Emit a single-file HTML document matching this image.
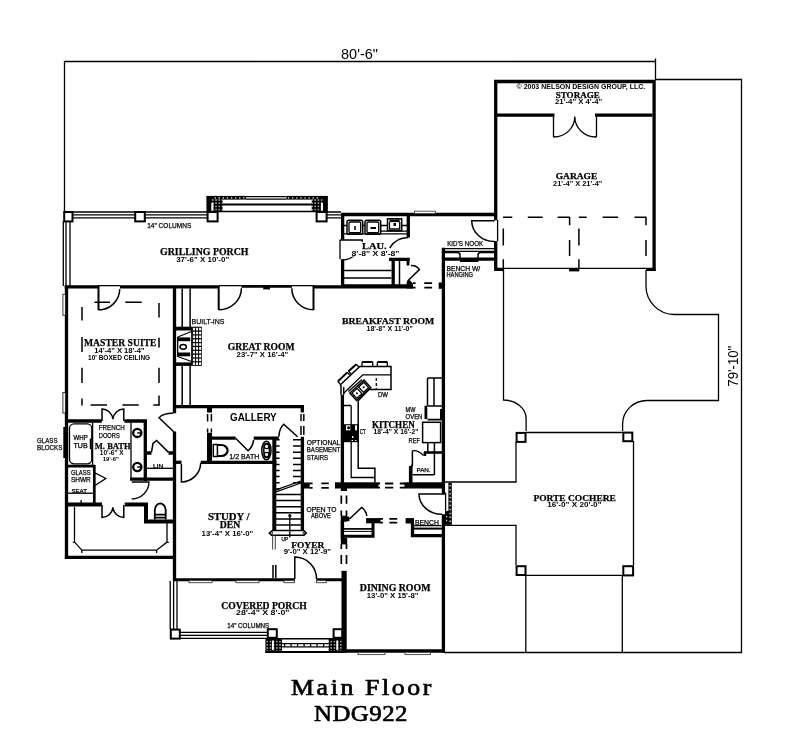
<!DOCTYPE html>
<html>
<head>
<meta charset="utf-8">
<title>Main Floor NDG922</title>
<style>
html,body{margin:0;padding:0;background:#fff;}
body{width:800px;height:753px;overflow:hidden;font-family:"Liberation Sans",sans-serif;}
svg{display:block;filter:grayscale(1);}
.t{stroke:#000;stroke-width:1.3;fill:none;}
.t2{stroke:#000;stroke-width:1.5;fill:none;}
.m{stroke:#000;stroke-width:2;fill:none;}
.w{stroke:#000;stroke-width:3.3;fill:none;stroke-linecap:butt;}
.w4{stroke:#000;stroke-width:4;fill:none;}
.d{stroke:#000;stroke-width:1.5;fill:none;stroke-dasharray:16 13;}
.dd{stroke:#000;stroke-width:1.5;fill:none;}
.k{fill:#000;stroke:none;}
.col{fill:#fff;stroke:#000;stroke-width:2;}
.rl{font-family:"Liberation Serif",serif;font-weight:bold;font-size:9px;letter-spacing:1px;fill:#000;text-anchor:middle;}
.dm{font-family:"Liberation Sans",sans-serif;font-weight:bold;font-size:6px;fill:#111;text-anchor:middle;}
.sm{font-family:"Liberation Sans",sans-serif;font-size:6.5px;fill:#111;}
.ttl{font-family:"Liberation Serif",serif;font-size:24px;letter-spacing:3px;fill:#000;text-anchor:middle;}
</style>
</head>
<body>
<svg width="800" height="753" viewBox="0 0 800 753">
<rect x="0" y="0" width="800" height="753" fill="#fff"/>
<defs>
<pattern id="dots" x="0" y="0" width="3.2" height="3.2" patternUnits="userSpaceOnUse"><rect width="3.2" height="3.2" fill="#000"/><rect x="1" y="1" width="1.3" height="1.2" fill="#fff"/></pattern>
</defs>

<!-- ===== DIMENSION LINES ===== -->
<g id="dims" opacity="0.995">
<path class="t" d="M64.5 211 V61.5 H655.5 M655.5 58.5 V80 M655 79.5 H741.5 V652.5 H444"/>
<text x="341" y="58.6" textLength="37" lengthAdjust="spacingAndGlyphs" font-family="Liberation Sans" font-size="14" fill="#000">80'-6"</text>
<text transform="translate(737.6,386.7) rotate(-90)" textLength="41" lengthAdjust="spacingAndGlyphs" font-family="Liberation Sans" font-size="14" fill="#000">79'-10"</text>
</g>

<!-- ===== GARAGE ===== -->
<g id="garage">
<path class="w" d="M495.7 220.2 V81.5 H654.1 V271"/>
<path class="w" d="M495.7 241 V269.4 H503.4"/>
<path class="w" d="M646 269.4 H655.5"/>
<path class="w" d="M497 115.2 H554.5 M595 115.2 H652.5"/>
<path class="t" d="M553.5 116 V137 M596.5 116 V137"/>
<path class="t" d="M553.5 137 A21 20.5 0 0 0 574.8 116.5 A21 20.5 0 0 0 596.5 137"/>
<path class="t" d="M503 268.4 H646"/>
<rect class="k" x="569" y="268" width="10.3" height="3.4"/>
<path class="dd" d="M503 217.2 H512.3 M527.8 217.2 H542.7 M557.6 217.2 H569.7 M578.8 217.2 H586.7 M602.6 217.2 H618.1 M634.5 217.2 H646.2"/>
<path class="dd" d="M503.3 228.4 V245.4 M503.3 259.2 V268 M569.6 217 V225.2 M569.6 240 V256 M578.9 228.4 V245.4 M578.9 259.2 V268 M646 217 V225.2 M646 240 V256"/>
</g>

<!-- ===== DRIVEWAY / PORTE COCHERE ===== -->
<g id="drive">
<path class="t" d="M503.5 268 V400 A22.6 18.5 0 0 1 526.1 418.5 V431"/>
<path class="t" d="M646 270 V286 A28.3 28.5 0 0 0 674.3 314.5 H718.5 V400.5 H647 A24.4 23.5 0 0 0 622.6 424 V431"/>
<path class="t" d="M526 432.5 H622.5 M516 442 V482 H445 M445 525.3 H516 V565 M526 575.3 H622.5 M633.5 441 V565 M525.8 576 V652.5 M622.3 576 V652.5"/>
<rect class="col" x="516.6" y="432.9" width="8.9" height="9"/>
<rect class="col" x="623.3" y="432.6" width="9" height="8.6"/>
<rect class="col" x="516.6" y="566.2" width="8.9" height="8.8"/>
<rect class="col" x="623.3" y="566.2" width="9.8" height="9.2"/>
</g>

<!-- ===== HOUSE ===== -->
<g id="house">
<!-- main top wall -->
<path class="w" d="M64.7 286.8 H98.5 M120 286.8 H218.5 M313.5 286.8 H413"/>
<path d="M241.4 286.4 H292" stroke="#000" stroke-width="2.6" fill="none"/>
<rect class="k" x="263.2" y="285" width="6.8" height="4.4"/>
<path class="t" d="M98 285.6 H120 M218.5 285.6 H241.4 M292 285.6 H314"/>

<!-- master suite left wall & bottom of closet -->
<path class="w" d="M66.5 286 V559 M64.7 557.3 H176"/>
<!-- wall master/great, continuing down to porch -->
<path class="w" d="M174.5 286 V413.3 M174.5 431.6 V581"/>
<!-- great room bottom / gallery top -->
<path class="w" d="M173 406.6 H304"/>
<!-- master suite bottom wall -->
<path class="w" d="M66 421 H101.8 M124.4 421 H147 M145.3 419.5 V481"/>
<path class="w" d="M130 479.2 H176"/>
<!-- bath lower wall -->
<path class="w" d="M66 504.5 H102 M124.7 504.5 H148 M146 503 V523 M144 521.6 H176" style="stroke-width:4"/>
<!-- shower -->
<path class="m" d="M68 466.2 H95.5 M94.3 465 V504" style="stroke-width:2.7"/>
<path class="t" d="M68 493.2 H93"/>
<path class="t" d="M94.5 472.7 L105.8 478.5 L94.5 485.7"/>
<!-- tub -->
<rect class="t" x="69.5" y="423.8" width="22.3" height="40" rx="4.5" ry="4.5"/>
<path class="t" d="M92.6 422 V465 M90.4 439 V448.4 H92.6 M90.4 439 H92.6 M81.1 500 V503.6"/>
<rect class="k" x="63.3" y="427" width="4.8" height="31"/>
<!-- vanity -->
<path class="t" d="M131 422.5 V478"/>
<circle cx="137.3" cy="432.9" r="4.1" class="m" style="stroke-width:2.3"/>
<circle cx="137.3" cy="467" r="4.1" class="m" style="stroke-width:2.3"/>
<path class="t2" d="M137.3 432.9 H141.5 M137.3 467 H141.5"/>
<!-- bath door -->
<path class="t" d="M131.7 482 H149 A17.3 17.3 0 0 1 131.7 499"/>
<!-- LIN closet -->
<path class="w" d="M147 453 H151.5 M168.5 453 H173"/>
<path class="t2" d="M151.5 452 L153 443.5 L156.6 440.4 L168.5 452.4"/>
<path class="t" d="M147 468.3 H173"/>
<!-- toilet master -->
<path class="m" d="M154.3 514.6 H166.2 M154.3 517.6 H166.2 M154.8 519.5 V510.5 Q155.2 504 160.2 503.3 Q165.3 504 165.7 510.5 V519.5" style="stroke-width:1.8"/>
<!-- closet shelves -->
<path class="t" d="M74.5 507 V542.1 L81.8 550.2 H156.6 L167 542.1 V523 M81.8 550 V553 M156.6 550 V553 M72.8 542.3 H74.5 M167 542.3 H168.8"/>
<!-- french doors master/bath (up) -->
<path class="t2" d="M102 421 V408.9 A11.2 11.4 0 0 1 112.9 419.3 A11.2 11.4 0 0 1 123.8 408.9 V421"/>
<!-- french doors bath/closet (down) -->
<path class="t2" d="M102 505 V517.6 A11.2 11.4 0 0 0 112.9 507.2 A11.2 11.4 0 0 0 123.8 517.6 V505"/>
<!-- master suite to porch door -->
<path class="m" d="M98.5 286 V310"/><path class="t2" d="M98.5 309.9 A21 21 0 0 0 119.7 289"/>
<!-- master entry door 45deg -->
<path class="t2" d="M174 432 L159 417.7 Q164 413 173 413.3"/>
<!-- boxed ceiling -->
<path class="dd" d="M94.5 302.2 H110 M125.3 302.2 H141.7 M90.6 405 H107 M122.4 405 H138.8 M153.3 405 H159.5"/>
<path class="dd" d="M82 307 V320.5 M82 337 V352 M82 367.7 V383 M82 398.5 V405.5 M159 303 V317.6 M159 337.8 V347.4 M159 367.7 V383 M159 395.6 V405.5"/>
<!-- windows left wall -->
<rect x="62.9" y="294.3" width="2.5" height="21" fill="#fff" stroke="#222" stroke-width="0.9"/><rect x="62.9" y="392.5" width="2.5" height="20.5" fill="#fff" stroke="#222" stroke-width="0.9"/>
<!-- built-ins -->
<path class="t2" d="M182.2 288.5 V327 M190.1 288.5 V327 M182.2 365.5 V405 M190.1 365.5 V405"/>
<!-- fireplace -->
<rect class="k" x="176" y="326.7" width="16.4" height="3.8"/>
<rect class="k" x="176" y="362.4" width="16.4" height="3.5"/>
<rect class="k" x="177.7" y="337.4" width="12.5" height="3.8"/>
<rect class="k" x="177.7" y="352.5" width="12.5" height="3.8"/>
<path class="t" d="M177.7 337 L191.5 331.5 M177.7 356.5 L191.5 361.5 M177.7 337 V357 M191.8 330 V363"/>
<ellipse cx="183.2" cy="346.8" rx="3.2" ry="2.4" class="t2"/>
<!-- hearth grid -->
<rect x="192.2" y="326.7" width="9.6" height="39.2" fill="#000"/>
<g fill="#fff">
<rect x="193.1" y="327.8" width="2" height="2.6"/><rect x="196.1" y="327.8" width="2" height="2.6"/><rect x="199.1" y="327.8" width="2" height="2.6"/><rect x="193.1" y="331.7" width="2" height="2.6"/><rect x="196.1" y="331.7" width="2" height="2.6"/><rect x="199.1" y="331.7" width="2" height="2.6"/><rect x="193.1" y="335.5" width="2" height="2.6"/><rect x="196.1" y="335.5" width="2" height="2.6"/><rect x="199.1" y="335.5" width="2" height="2.6"/><rect x="193.1" y="339.4" width="2" height="2.6"/><rect x="196.1" y="339.4" width="2" height="2.6"/><rect x="199.1" y="339.4" width="2" height="2.6"/><rect x="193.1" y="343.2" width="2" height="2.6"/><rect x="196.1" y="343.2" width="2" height="2.6"/><rect x="199.1" y="343.2" width="2" height="2.6"/><rect x="193.1" y="347.1" width="2" height="2.6"/><rect x="196.1" y="347.1" width="2" height="2.6"/><rect x="199.1" y="347.1" width="2" height="2.6"/><rect x="193.1" y="350.9" width="2" height="2.6"/><rect x="196.1" y="350.9" width="2" height="2.6"/><rect x="199.1" y="350.9" width="2" height="2.6"/><rect x="193.1" y="354.8" width="2" height="2.6"/><rect x="196.1" y="354.8" width="2" height="2.6"/><rect x="199.1" y="354.8" width="2" height="2.6"/><rect x="193.1" y="358.6" width="2" height="2.6"/><rect x="196.1" y="358.6" width="2" height="2.6"/><rect x="199.1" y="358.6" width="2" height="2.6"/><rect x="193.1" y="362.4" width="2" height="2.6"/><rect x="196.1" y="362.4" width="2" height="2.6"/><rect x="199.1" y="362.4" width="2" height="2.6"/>
</g>
<!-- great room doors -->
<path class="m" d="M218.7 286 V310"/><path class="t2" d="M218.7 309.8 A22.5 21.5 0 0 0 241.4 288.3"/>
<path class="m" d="M313.5 286 V310"/><path class="t2" d="M313.5 309.8 A21.8 21.5 0 0 1 291.8 288.3"/>
<g id="mid">
<!-- study door stub -->
<path class="w" d="M176 462.3 H181.5"/>
<path class="t2" d="M181.4 464 V482 A19.5 19.5 0 0 0 200.7 463"/>
<!-- gallery left opening -->
<path class="w4" d="M209.5 408 V412.6 M209.5 432.7 V464" style="stroke-width:5"/>
<path class="t2" d="M207.6 414 V421.5 M211.4 414 V421.5 M207.6 428.5 V432.5 M211.4 428.5 V432.5" />
<!-- half bath -->
<path class="w" d="M200.7 462.4 H276.4"/>
<path class="w" d="M211 438.2 H235.6 M253.7 438.2 H278.8"/>
<path class="t2" d="M235.6 438.2 L248.1 450.8 Q252.5 447 253.7 440"/>
<!-- toilet half bath -->
<path class="t2" d="M213.3 444.5 H217.4 V456.4 H213.3 Z"/><path class="m" d="M217.4 445 H221.3 A6.3 5.5 0 0 1 221.3 456 H217.4" style="stroke-width:2.2"/>
<!-- sink half bath -->
<ellipse cx="266.4" cy="450.5" rx="4.6" ry="9.3" class="t2"/>
<ellipse cx="266.6" cy="450.5" rx="2.8" ry="6.5" class="t2"/>
<ellipse cx="266.6" cy="446" rx="2.6" ry="2.6" class="t"/>
<ellipse cx="266.6" cy="455" rx="2.6" ry="2.6" class="t"/>
<!-- stair walls -->
<path class="w4" d="M274.3 438.2 V531"/>
<path class="w" d="M302.4 436.8 V531"/>
<!-- gallery right opening -->
<path class="w" d="M302.3 408 V412.4"/>
<path class="t2" d="M301 414 V421 M303.8 414 V421 M301 426 V435 M303.8 426 V435"/>
<!-- basement door -->
<path class="t2" d="M297.6 436.8 L283.7 424.3 Q279.5 428 278.8 436.8"/>
<!-- stair ticks upper -->
<path class="t2" d="M276 439.8 H279.6 M293 439.8 H301 M276 446.0 H279.6 M293 446.0 H301 M276 452.2 H279.6 M293 452.2 H301 M276 458.3 H279.6 M293 458.3 H301 M276 464.4 H279.6 M293 464.4 H301 M276 470.5 H279.6 M293 470.5 H301 M276 476.6 H279.6 M293 476.6 H301 M276 482.7 H279.6 M293 482.7 H301 "/>
<path class="t2" d="M276.4 488.8 H279.6"/>
<!-- break line -->
<path class="t" d="M276 491.8 L301 483 M276 489.8 L301 481"/>
<!-- lower treads -->
<path class="t2" d="M276 494.5 H301 M276 500.6 H301 M276 506.7 H301 M276 512.8 H301 M276 518.9 H301 M276 525.0 H301 "/>
<path class="t2" d="M272.4 530.6 L269.3 533 L271.5 535.3 H304 L306.3 533 L303.8 530.6 Z" fill="#fff"/>
<circle cx="271.6" cy="533" r="1.1" fill="#fff" stroke="#000" stroke-width="0.8"/>
<circle cx="304" cy="533" r="1.1" fill="#fff" stroke="#000" stroke-width="0.8"/>
<path class="t" d="M289.8 516 V537.5"/>
<circle cx="289.8" cy="515.6" r="1" class="t"/>
<!-- study/foyer opening -->
<path d="M272.6 535.5 V549.4 M275.3 535.5 V549.4" stroke="#555" stroke-width="1.1" fill="none"/>
<path class="t2" d="M273 565 V578 M275.8 565 V578"/>
<!-- study bottom wall / porch top -->
<path class="w" d="M173 579.7 H294.8 M316.5 579.7 H345" style="stroke-width:3"/>

<!-- front door -->
<path class="t2" d="M294.8 579 V557 A21.7 21.7 0 0 1 316.5 579"/>
<!-- wall right of stairs with openings -->
<path class="k" d="M303 482.5 H309.7 V488.5 H303 Z"/>
<path class="m" d="M309.5 483.4 H312.6 M321.3 483.4 H328.8 M309.5 487.8 H312.6 M321.3 487.8 H328.8" style="stroke-width:1.8"/>
<rect class="k" x="335" y="482.3" width="43.5" height="6.2"/>
<rect class="k" x="340.8" y="488" width="6.2" height="3"/>
<path class="m" d="M378 483.5 H380 M385 483.5 H393.2 M399.8 483.5 H405 M378 487.7 H380 M385 487.7 H393.2 M399.8 487.7 H405" style="stroke-width:1.8"/>
<rect class="k" x="404.5" y="482.3" width="40.5" height="6.2"/>
<!-- foyer/dining vertical wall -->
<path class="m" d="M341.3 495.4 V503.8 M346.5 495.4 V503.8 M341.3 510.5 V516 M346.5 510.5 V516 M341.3 544 V549 M346.5 544 V549 M341.3 555 V564 M346.5 555 V564" style="stroke-width:1.7"/>
<rect class="k" x="340.8" y="515.7" width="6.4" height="6"/><rect class="k" x="340.6" y="521" width="3.5" height="17.5"/><rect class="k" x="340.8" y="537.8" width="6.4" height="6.6"/>
<rect class="k" x="341.5" y="570.8" width="5.2" height="81.9"/>
<!-- coat closet -->
<rect class="k" x="347" y="516.6" width="2.4" height="4.6"/>
<path class="t2" d="M349.5 519 L361.7 507.4 Q366 510.5 366.8 516"/>
<rect class="k" x="366.1" y="518.1" width="14.4" height="5.2"/>
<path class="w" d="M373 519 V537.8 M344 536.3 H374.6" style="stroke-width:3"/>
<path class="m" d="M344 528.9 H372" style="stroke-width:1.7"/><path class="t" d="M344 531.4 H372" style="stroke-width:1"/>
<!-- dashes closet-bench -->
<path class="m" d="M380 518.9 H383 M389.4 518.9 H397.2 M380 522.6 H383 M389.4 522.6 H397.2" style="stroke-width:1.6"/>
<rect class="k" x="405.6" y="518.1" width="8.4" height="5.4"/>
<!-- bench -->
<path class="w" d="M412.5 523 V537.2 M411 535.7 H442"/>
<path class="m" d="M414 528.6 H442"/><path class="t" d="M413 525.6 H441.5"/>
<!-- east wall -->
<path class="w" d="M443.4 247.7 V494 M443.4 514.3 V652.7"/>

<!-- side door -->
<path class="t2" d="M445.6 494 H419 A23 20.3 0 0 0 441.9 514.3"/>
<!-- dining bottom wall -->
<path class="w" d="M341.5 651 H445"/>
<g fill="#fff" stroke="#444" stroke-width="0.9"><rect x="358" y="652.4" width="27" height="2.2"/><rect x="405" y="652.4" width="25.5" height="2.2"/></g>
<!-- brick strip -->
<rect class="k" x="448.4" y="483" width="3.4" height="41.8"/>
<path d="M450.1 485 V524" stroke="#fff" stroke-width="1.2" stroke-dasharray="1.5 2.45" fill="none"/>
<rect class="k" x="445" y="511" width="4" height="13.8"/>
<path d="M446.7 516 V523" stroke="#fff" stroke-width="1" stroke-dasharray="1.4 2.4" fill="none"/>
<path class="t" d="M445.6 492.6 V511"/>
</g>
<g id="kitchen">
<!-- peninsula left wall -->
<path class="w" d="M342.4 394.7 V483"/>
<path class="t2" d="M341 394.7 V385.5 M343.7 394.7 V387"/>
<!-- counter outline -->
<path class="t2" d="M340.6 386 L340.4 384.8 L359.8 366.5 H391 V389.4 H369 L358.2 400.8 V468.3 H374.9 V482.5"/>
<path class="t" d="M343.7 393.2 L362.8 374.8 H391"/>
<path class="t" d="M348.3 391.6 L362 379.4"/>
<path class="t" d="M343.7 405.5 H351 M351.2 405.5 V477.5 H374.9"/>
<!-- stools -->
<path class="m" d="M362 362 H372.7 M377.3 362 H387.3"/>
<path class="t" d="M362 362 V366 M372.7 362 V366 M377.3 362 V366 M387.3 362 V366"/>
<path class="m" d="M337.8 381.5 L347.3 372.4 M348.5 371.3 L356.3 364.2"/>
<path class="t" d="M337.8 381.5 L340.2 384 M347.3 372.4 L349.6 375 M348.5 371.3 L351 373.8 M356.3 364.2 L358.7 366.8"/>
<!-- sink (rotated) -->
<g transform="translate(360.3 390.3) rotate(-42)">
<rect x="-9.6" y="-5" width="19.2" height="10" class="t2" fill="#fff"/>
<rect x="-8" y="-3.6" width="7" height="7.2" class="t"/>
<rect x="1" y="-3.6" width="7" height="7.2" class="t"/>
<circle cx="-4.5" cy="0" r="1" fill="#000"/>
<circle cx="4.5" cy="0" r="1" fill="#000"/>
</g>
<!-- DW -->
<path class="t" d="M376.3 378 V389" style="stroke-dasharray:3 2"/>
<!-- cooktop -->
<rect class="k" x="343" y="424.2" width="15.2" height="18"/>
<g fill="#fff"><rect x="346" y="425.3" width="4.3" height="5"/><rect x="355" y="425.3" width="2" height="5"/><rect x="352" y="436" width="1.3" height="2"/><rect x="351.6" y="440" width="1.4" height="1"/><rect x="355" y="440" width="1.4" height="1"/></g>
<circle cx="348.6" cy="427.8" r="1.5" fill="#000"/>
<!-- right counter -->
<path class="t2" d="M427.5 378 H442 M427.5 378 V405.7 M434 378 V405.7"/>
<!-- oven -->
<rect class="k" x="424.5" y="405.7" width="2.8" height="13.4"/>
<path class="m" d="M427.5 406 H442 M427.5 419.6 H442" style="stroke-width:1.6"/>
<path class="m" d="M441 409 V419"/>
<!-- ref -->
<rect class="t2" x="422.6" y="422.3" width="18" height="20.3" fill="none"/>
<!-- below ref -->
<path class="t2" d="M427.8 442.6 V452 M434.4 442.6 V475"/>
<path class="w" d="M424 452.5 H442" style="stroke-width:2.6"/>
<rect class="k" x="423.6" y="452" width="2.6" height="4"/>
<!-- pantry -->
<path class="t2" d="M434.4 474.8 H412.4 M412.4 450.8 V466"/>
<path class="t" d="M412.4 450.8 Q418 450 423.5 455.5"/>
<path class="w" d="M410.7 466 V483" style="stroke-width:3.6"/>
<path class="k" d="M409 468 L412.4 463.5 V468 Z"/>
</g>
<g id="lau">
<!-- top wall LAU..garage -->
<path class="w" d="M341 214.5 H497"/>
<rect x="414.5" y="211.2" width="21" height="2.3" fill="#fff" stroke="#444" stroke-width="0.9"/>
<!-- lau left wall -->
<path class="w" d="M342.6 213 V239.7 M342.6 259.2 V287"/>
<path class="t" d="M340 239.7 V259.2 M340 240 H362.3 A20.3 20.3 0 0 1 342 260"/>
<rect x="351" y="242" width="37" height="14.5" fill="#fff"/>
<!-- lau right wall + closet -->
<path class="w" d="M408.3 216 V237.5"/>
<path class="t2" d="M389.7 248 A21.5 21.5 0 0 1 408.3 237.5"/>
<path class="w" d="M389 259.4 H409.8 M393.2 259.4 V287" />
<path class="w" d="M408 258 V265.5" style="stroke-width:2.8"/>
<path class="t2" d="M411 265.5 Q416.5 265.3 419.4 269.6 L407.6 281"/>
<path class="t2" d="M399.5 261 V285"/>
<path class="k" d="M406.6 281.5 L409.5 280 L413 283.5 V288.4 H406.6 Z"/>
<!-- shelves -->
<path class="t" d="M344 270.5 H391.5 M344 278 H391.5"/>
<!-- counter & appliances -->
<path class="t" d="M344 233.9 H407 M344 225.5 H347 M362.7 225.5 H365 M380.7 225.5 H387.5 M401.7 225.5 H407 M380.7 231.2 H407"/>
<rect class="t2" x="347" y="220.3" width="15.7" height="14" rx="1.8" fill="#fff"/>
<rect class="t" x="349" y="222" width="11.7" height="10.6" rx="1"/>
<path class="t2" d="M355 226 V230"/>
<rect class="t2" x="365" y="220.3" width="15.7" height="14" rx="1.8" fill="#fff"/>
<rect class="t" x="367" y="222" width="11.7" height="10.6" rx="1"/>
<path class="m" d="M370.5 228 H376"/>
<rect class="t2" x="387.5" y="218.8" width="14.2" height="12" fill="#fff"/>
<rect class="k" x="389.5" y="219.5" width="10.2" height="2.6"/>
<path class="t" d="M389.5 222 V229 H399.7 V222"/>
<rect class="k" x="393.5" y="223" width="2.4" height="3"/>
<!-- bottom wall dashes to east wall -->
<path class="w" d="M445 285.8 H445"/>
<path class="m" d="M413 283.1 H415.6 M424.3 283.1 H432.1 M413 287.6 H415.6 M424.3 287.6 H432.1" style="stroke-width:1.8"/>
<rect class="k" x="438.7" y="282.5" width="6.3" height="6.3"/>
<path class="w" d="M341 286 H413"/>

<!-- kid's nook -->
<path class="t" d="M444.7 248.7 H494"/>
<path class="t" d="M444.7 251.3 H494"/><path class="t2" d="M444.7 252.6 H457.6 Q460 252.8 460 255 V258 M494 252.6 H480.4 Q478 252.8 478 255 V258"/>
<path class="w" d="M444.7 259.2 H494.5"/>
<rect class="k" x="460" y="258" width="18.5" height="4"/>
<!-- garage door -->
<path class="t2" d="M494.5 220.7 H471.7 A22.5 21 0 0 0 494.5 241.5"/>
<path class="t" d="M497.6 220 V241.2"/>
</g>
<g id="gporch">
<!-- grilling porch railing -->
<path class="t" d="M72 212 H207 M72 214.8 H207 M72 217.9 H207 M326.8 212 H341 M326.8 214.8 H341 M326.8 217.9 H341"/>
<path class="t" d="M63.3 221 V286 M66 221 V286 M70 221 V286"/>
<rect class="col" x="64.2" y="212" width="8.3" height="9.4"/>
<rect class="col" x="135.2" y="212" width="9.6" height="9.4"/>
<rect class="col" x="207.6" y="212" width="10" height="9.4"/>
<rect class="col" x="316.6" y="212" width="10" height="9.4"/>
<!-- bump -->
<rect x="206.6" y="195.9" width="39.4" height="3.7" fill="#000"/>
<rect x="286.5" y="195.9" width="41.2" height="3.7" fill="#000"/>
<path d="M214.5 197.9 H245 M288 197.9 H320" stroke="#fff" stroke-width="1.1" stroke-dasharray="1.3 2.8" fill="none"/>
<path class="t" d="M246 196.6 H286.5 M246 199.2 H286.5"/>
<rect x="206.6" y="199" width="16" height="12.8" fill="url(#dots)"/>
<rect x="206.6" y="196" width="4.5" height="16" fill="#000"/>
<rect x="211.3" y="202.8" width="2.1" height="8.4" fill="#fff"/>
<rect x="311.7" y="199" width="16" height="12.8" fill="url(#dots)"/>
<rect x="323.2" y="196" width="4.5" height="16" fill="#000"/>
<rect x="320.9" y="202.8" width="2.1" height="8.4" fill="#fff"/>
<path class="m" d="M222 204.6 H312"/>
<path class="t2" d="M207 211.4 H327.5"/>
</g>
<g id="cporch">
<path class="t" d="M170.2 581 V629 M173.6 581 V629 M177 581 V629"/>
<path class="t" d="M180 632.3 H268 M180 635.3 H268 M180 638.3 H268"/>
<rect class="col" x="170.8" y="629.6" width="9" height="9"/>
<rect class="col" x="267.8" y="629.2" width="9" height="8.6"/>
<rect class="col" x="333.6" y="629.2" width="8.6" height="8.6"/>
<g fill="#fff" stroke="#333" stroke-width="0.9"><rect x="189" y="580.4" width="23" height="2.3"/><rect x="236" y="580.4" width="23" height="2.3"/><rect x="284" y="580.4" width="10.4" height="2.3"/><rect x="316.6" y="580.4" width="9.6" height="2.3"/></g>
<!-- steps bump -->
<rect x="265.4" y="638.4" width="16.6" height="13.6" fill="url(#dots)"/>
<rect x="271.9" y="640.5" width="1.9" height="9.5" fill="#fff"/>
<rect x="328.6" y="638.4" width="14.2" height="13.6" fill="url(#dots)"/>
<rect x="336.3" y="640.5" width="1.9" height="9.5" fill="#fff"/>
<path class="t2" d="M266 638.8 H342.6"/>
<path class="m" d="M265.2 651.9 H343"/>
<path class="t" d="M282 643.6 H329 M282 646.8 H329"/>
<path d="M284 645.2 H328" stroke="#000" stroke-width="3" stroke-dasharray="1.2 5.3" fill="none"/>
</g>
</g>

<!-- ===== TEXT ===== -->
<g id="labels" opacity="0.995">
<text x="160.0" y="254.9" textLength="88.5" lengthAdjust="spacingAndGlyphs" font-family="Liberation Serif" font-weight="bold" font-size="9.4" stroke="#000" stroke-width="0.25" fill="#000">GRILLING PORCH</text>
<text x="176.2" y="261.6" textLength="53.0" lengthAdjust="spacingAndGlyphs" font-family="Liberation Sans" font-weight="bold" font-size="7.2" fill="#000">37'-6&quot; X 10'-0&quot;</text>
<text x="84.0" y="345.8" textLength="72.5" lengthAdjust="spacingAndGlyphs" font-family="Liberation Serif" font-weight="bold" font-size="11.0" stroke="#000" stroke-width="0.25" fill="#000">MASTER SUITE</text>
<text x="94.2" y="352.9" textLength="50.5" lengthAdjust="spacingAndGlyphs" font-family="Liberation Sans" font-weight="bold" font-size="7.2" fill="#000">14'-4&quot; X 18'-4&quot;</text>
<text x="88.0" y="360.3" textLength="62.2" lengthAdjust="spacingAndGlyphs" font-family="Liberation Sans" font-weight="bold" font-size="7.4" fill="#000">10' BOXED CEILING</text>
<text x="227.7" y="349.5" textLength="66.9" lengthAdjust="spacingAndGlyphs" font-family="Liberation Serif" font-weight="bold" font-size="9.8" stroke="#000" stroke-width="0.25" fill="#000">GREAT ROOM</text>
<text x="236.6" y="356.6" textLength="51.7" lengthAdjust="spacingAndGlyphs" font-family="Liberation Sans" font-weight="bold" font-size="7.2" fill="#000">23'-7&quot; X 16'-4&quot;</text>
<text x="342.0" y="324.3" textLength="92.2" lengthAdjust="spacingAndGlyphs" font-family="Liberation Serif" font-weight="bold" font-size="9.2" stroke="#000" stroke-width="0.25" fill="#000">BREAKFAST ROOM</text>
<text x="366.5" y="331.4" textLength="46.3" lengthAdjust="spacingAndGlyphs" font-family="Liberation Sans" font-weight="bold" font-size="7.2" fill="#000">18'-8&quot; X 11'-0&quot;</text>
<text x="555.7" y="97.8" textLength="44.1" lengthAdjust="spacingAndGlyphs" font-family="Liberation Serif" font-weight="bold" font-size="9.1" stroke="#000" stroke-width="0.25" fill="#000">STORAGE</text>
<text x="555.0" y="104.2" textLength="47.3" lengthAdjust="spacingAndGlyphs" font-family="Liberation Sans" font-weight="bold" font-size="7.2" fill="#000">21'-4&quot; X 4'-4&quot;</text>
<text x="516.6" y="89.0" textLength="128.6" lengthAdjust="spacingAndGlyphs" font-family="Liberation Sans" font-weight="bold" font-size="6.6" fill="#000">© 2003 NELSON DESIGN GROUP, LLC.</text>
<text x="555.7" y="179.0" textLength="41.6" lengthAdjust="spacingAndGlyphs" font-family="Liberation Serif" font-weight="bold" font-size="9.1" stroke="#000" stroke-width="0.25" fill="#000">GARAGE</text>
<text x="553.1" y="185.7" textLength="49.2" lengthAdjust="spacingAndGlyphs" font-family="Liberation Sans" font-weight="bold" font-size="7.2" fill="#000">21'-4&quot; X 21'-4&quot;</text>
<text x="533.4" y="500.9" textLength="82.5" lengthAdjust="spacingAndGlyphs" font-family="Liberation Serif" font-weight="bold" font-size="9.1" stroke="#000" stroke-width="0.25" fill="#000">PORTE COCHERE</text>
<text x="547.3" y="507.3" textLength="54.2" lengthAdjust="spacingAndGlyphs" font-family="Liberation Sans" font-weight="bold" font-size="7.2" fill="#000">16'-0&quot; X 20'-0&quot;</text>
<text x="207.9" y="519.9" textLength="41.6" lengthAdjust="spacingAndGlyphs" font-family="Liberation Serif" font-weight="bold" font-size="10.3" stroke="#000" stroke-width="0.25" fill="#000">STUDY /</text>
<text x="219.8" y="528.3" textLength="20.4" lengthAdjust="spacingAndGlyphs" font-family="Liberation Serif" font-weight="bold" font-size="9.8" stroke="#000" stroke-width="0.25" fill="#000">DEN</text>
<text x="201.6" y="536.4" textLength="51.7" lengthAdjust="spacingAndGlyphs" font-family="Liberation Sans" font-weight="bold" font-size="7.2" fill="#000">13'-4&quot; X 16'-0&quot;</text>
<text x="291.3" y="548.2" textLength="32.9" lengthAdjust="spacingAndGlyphs" font-family="Liberation Serif" font-weight="bold" font-size="9.0" stroke="#000" stroke-width="0.25" fill="#000">FOYER</text>
<text x="283.7" y="554.2" textLength="47.3" lengthAdjust="spacingAndGlyphs" font-family="Liberation Sans" font-weight="bold" font-size="7.2" fill="#000">9'-0&quot; X 12'-9&quot;</text>
<text x="359.8" y="591.0" textLength="70.6" lengthAdjust="spacingAndGlyphs" font-family="Liberation Serif" font-weight="bold" font-size="9.4" stroke="#000" stroke-width="0.25" fill="#000">DINING ROOM</text>
<text x="366.8" y="597.5" textLength="51.7" lengthAdjust="spacingAndGlyphs" font-family="Liberation Sans" font-weight="bold" font-size="7.2" fill="#000">13'-0&quot; X 15'-8&quot;</text>
<text x="221.3" y="608.6" textLength="85.5" lengthAdjust="spacingAndGlyphs" font-family="Liberation Serif" font-weight="bold" font-size="9.6" stroke="#000" stroke-width="0.25" fill="#000">COVERED PORCH</text>
<text x="236.0" y="615.2" textLength="53.5" lengthAdjust="spacingAndGlyphs" font-family="Liberation Sans" font-weight="bold" font-size="7.2" fill="#000">28'-4&quot; X 8'-0&quot;</text>
<text x="227.2" y="628.2" textLength="42.1" lengthAdjust="spacingAndGlyphs" stroke="#000" stroke-width="0.25" font-family="Liberation Sans" font-weight="normal" font-size="6.6" fill="#000">14&quot; COLUMNS</text>
<text x="147.2" y="228.0" textLength="44.1" lengthAdjust="spacingAndGlyphs" stroke="#000" stroke-width="0.25" font-family="Liberation Sans" font-weight="normal" font-size="7.4" fill="#000">14&quot; COLUMNS</text>
<text x="372.0" y="427.6" textLength="42.7" lengthAdjust="spacingAndGlyphs" font-family="Liberation Serif" font-weight="bold" font-size="9.3" stroke="#000" stroke-width="0.25" fill="#000">KITCHEN</text>
<text x="373.5" y="434.1" textLength="45.0" lengthAdjust="spacingAndGlyphs" font-family="Liberation Sans" font-weight="bold" font-size="7.2" fill="#000">18'-4&quot; X 16'-2&quot;</text>
<text x="362.0" y="248.8" textLength="24.7" lengthAdjust="spacingAndGlyphs" font-family="Liberation Serif" font-weight="bold" font-size="9.2" stroke="#000" stroke-width="0.25" fill="#000">LAU.</text>
<text x="351.5" y="255.6" textLength="48.0" lengthAdjust="spacingAndGlyphs" font-family="Liberation Sans" font-weight="bold" font-size="7.2" fill="#000">8'-8&quot; X 8'-8&quot;</text>
<text x="230.0" y="420.9" textLength="46.7" lengthAdjust="spacingAndGlyphs" font-family="Liberation Sans" font-weight="bold" font-size="10.7" fill="#000">GALLERY</text>
<text x="94.8" y="448.5" textLength="35.9" lengthAdjust="spacingAndGlyphs" font-family="Liberation Serif" font-weight="bold" font-size="9.2" stroke="#000" stroke-width="0.25" fill="#000">M. BATH</text>
<text x="99.8" y="454.9" textLength="23.9" lengthAdjust="spacingAndGlyphs" font-family="Liberation Sans" font-weight="bold" font-size="7.2" fill="#000">10'-6&quot; X</text>
<text x="102.8" y="460.9" textLength="15.9" lengthAdjust="spacingAndGlyphs" font-family="Liberation Sans" font-weight="bold" font-size="6.2" fill="#000">19'-6&quot;</text>
<text x="191.6" y="324.0" textLength="32.8" lengthAdjust="spacingAndGlyphs" stroke="#000" stroke-width="0.25" font-family="Liberation Sans" font-weight="normal" font-size="8.0" fill="#000">BUILT-INS</text>
<text x="98.8" y="430.0" textLength="25.9" lengthAdjust="spacingAndGlyphs" stroke="#000" stroke-width="0.25" font-family="Liberation Sans" font-weight="normal" font-size="7.0" fill="#000">FRENCH</text>
<text x="98.8" y="437.6" textLength="20.9" lengthAdjust="spacingAndGlyphs" stroke="#000" stroke-width="0.25" font-family="Liberation Sans" font-weight="normal" font-size="7.0" fill="#000">DOORS</text>
<text x="73.5" y="439.9" textLength="14.3" lengthAdjust="spacingAndGlyphs" stroke="#000" stroke-width="0.25" font-family="Liberation Sans" font-weight="normal" font-size="6.4" fill="#000">WHP</text>
<text x="73.5" y="447.9" textLength="14.3" lengthAdjust="spacingAndGlyphs" stroke="#000" stroke-width="0.25" font-family="Liberation Sans" font-weight="normal" font-size="6.4" fill="#000">TUB</text>
<text x="70.9" y="474.8" textLength="19.9" lengthAdjust="spacingAndGlyphs" stroke="#000" stroke-width="0.25" font-family="Liberation Sans" font-weight="normal" font-size="7.0" fill="#000">GLASS</text>
<text x="70.9" y="481.8" textLength="19.9" lengthAdjust="spacingAndGlyphs" stroke="#000" stroke-width="0.25" font-family="Liberation Sans" font-weight="normal" font-size="7.0" fill="#000">SHWR</text>
<text x="71.5" y="492.7" textLength="15.4" lengthAdjust="spacingAndGlyphs" stroke="#000" stroke-width="0.25" font-family="Liberation Sans" font-weight="normal" font-size="6.0" fill="#000">SEAT</text>
<text x="37.0" y="442.6" textLength="20.5" lengthAdjust="spacingAndGlyphs" stroke="#000" stroke-width="0.25" font-family="Liberation Sans" font-weight="normal" font-size="7.0" fill="#000">GLASS</text>
<text x="37.0" y="450.1" textLength="25.5" lengthAdjust="spacingAndGlyphs" stroke="#000" stroke-width="0.25" font-family="Liberation Sans" font-weight="normal" font-size="7.0" fill="#000">BLOCKS</text>
<text x="153.0" y="467.6" textLength="10.5" lengthAdjust="spacingAndGlyphs" stroke="#000" stroke-width="0.25" font-family="Liberation Sans" font-weight="normal" font-size="6.0" fill="#000">LIN</text>
<text x="229.3" y="458.6" textLength="30.0" lengthAdjust="spacingAndGlyphs" stroke="#000" stroke-width="0.25" font-family="Liberation Sans" font-weight="normal" font-size="7.0" fill="#000">1/2 BATH</text>
<text x="306.8" y="444.6" textLength="33.5" lengthAdjust="spacingAndGlyphs" stroke="#000" stroke-width="0.25" font-family="Liberation Sans" font-weight="normal" font-size="7.0" fill="#000">OPTIONAL</text>
<text x="306.8" y="451.9" textLength="33.5" lengthAdjust="spacingAndGlyphs" stroke="#000" stroke-width="0.25" font-family="Liberation Sans" font-weight="normal" font-size="7.0" fill="#000">BASEMENT</text>
<text x="306.8" y="459.5" textLength="21.2" lengthAdjust="spacingAndGlyphs" stroke="#000" stroke-width="0.25" font-family="Liberation Sans" font-weight="normal" font-size="7.0" fill="#000">STAIRS</text>
<text x="306.6" y="512.1" textLength="29.8" lengthAdjust="spacingAndGlyphs" stroke="#000" stroke-width="0.25" font-family="Liberation Sans" font-weight="normal" font-size="6.6" fill="#000">OPEN TO</text>
<text x="311.0" y="518.2" textLength="20.0" lengthAdjust="spacingAndGlyphs" stroke="#000" stroke-width="0.25" font-family="Liberation Sans" font-weight="normal" font-size="6.6" fill="#000">ABOVE</text>
<text x="281.4" y="541.2" textLength="6.9" lengthAdjust="spacingAndGlyphs" stroke="#000" stroke-width="0.25" font-family="Liberation Sans" font-weight="normal" font-size="5.6" fill="#000">UP</text>
<text x="359.8" y="433.7" textLength="6.1" lengthAdjust="spacingAndGlyphs" stroke="#000" stroke-width="0.25" font-family="Liberation Sans" font-weight="normal" font-size="6.4" fill="#000">CT</text>
<text x="378.0" y="396.6" textLength="10.0" lengthAdjust="spacingAndGlyphs" stroke="#000" stroke-width="0.25" font-family="Liberation Sans" font-weight="normal" font-size="6.4" fill="#000">DW</text>
<text x="405.6" y="411.6" textLength="9.9" lengthAdjust="spacingAndGlyphs" stroke="#000" stroke-width="0.25" font-family="Liberation Sans" font-weight="normal" font-size="6.6" fill="#000">MW</text>
<text x="405.6" y="418.5" textLength="16.8" lengthAdjust="spacingAndGlyphs" stroke="#000" stroke-width="0.25" font-family="Liberation Sans" font-weight="normal" font-size="6.6" fill="#000">OVEN</text>
<text x="408.6" y="442.9" textLength="11.4" lengthAdjust="spacingAndGlyphs" stroke="#000" stroke-width="0.25" font-family="Liberation Sans" font-weight="normal" font-size="6.6" fill="#000">REF</text>
<text x="416.5" y="472.1" textLength="14.1" lengthAdjust="spacingAndGlyphs" stroke="#000" stroke-width="0.25" font-family="Liberation Sans" font-weight="normal" font-size="6.2" fill="#000">PAN.</text>
<text x="415.0" y="524.8" textLength="23.8" lengthAdjust="spacingAndGlyphs" stroke="#000" stroke-width="0.25" font-family="Liberation Sans" font-weight="normal" font-size="7.0" fill="#000">BENCH</text>
<text x="447.2" y="246.3" textLength="36.0" lengthAdjust="spacingAndGlyphs" stroke="#000" stroke-width="0.25" font-family="Liberation Sans" font-weight="normal" font-size="7.0" fill="#000">KID'S NOOK</text>
<text x="446.5" y="270.6" textLength="33.7" lengthAdjust="spacingAndGlyphs" stroke="#000" stroke-width="0.25" font-family="Liberation Sans" font-weight="normal" font-size="6.6" fill="#000">BENCH W/</text>
<text x="446.5" y="277.3" textLength="26.5" lengthAdjust="spacingAndGlyphs" stroke="#000" stroke-width="0.25" font-family="Liberation Sans" font-weight="normal" font-size="6.6" fill="#000">HANGING</text>
<text x="291" y="695" textLength="143" lengthAdjust="spacingAndGlyphs" letter-spacing="2.4" font-family="Liberation Serif" font-size="24" fill="#000" stroke="#000" stroke-width="0.7">Main Floor</text>
<text x="314" y="721" textLength="94" lengthAdjust="spacingAndGlyphs" letter-spacing="0.5" font-family="Liberation Serif" font-size="24" fill="#000" stroke="#000" stroke-width="0.7">NDG922</text>
</g>
</svg>
</body>
</html>
